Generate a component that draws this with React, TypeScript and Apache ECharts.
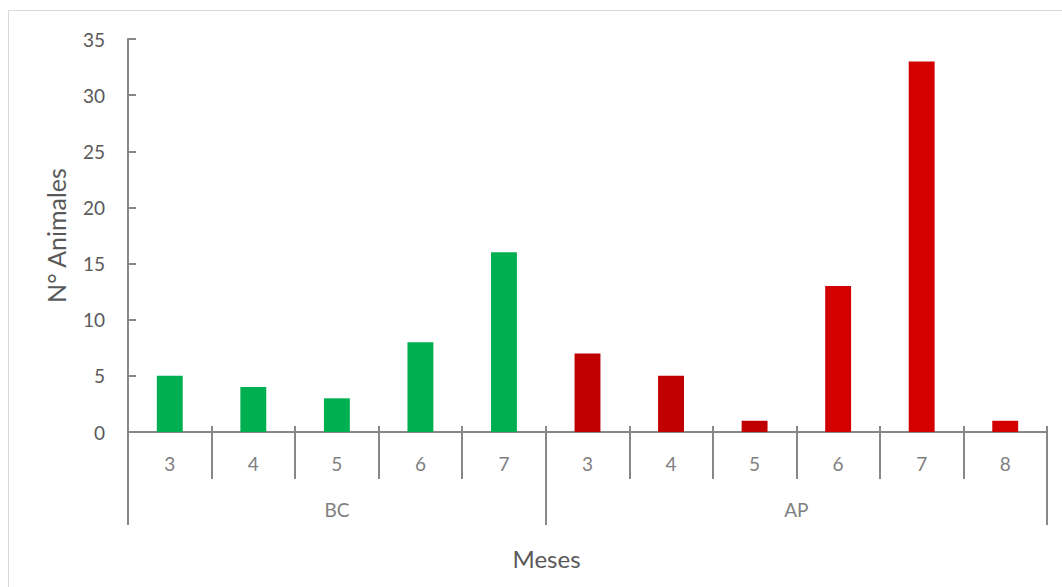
import React, { useEffect, useRef } from "react";
import * as echarts from "echarts";

const groups = ["BC", "AP"];
const groupSizes = [5, 6];
const months = ["3", "4", "5", "6", "7", "3", "4", "5", "6", "7", "8"];
const animals = [5, 4, 3, 8, 16, 7, 5, 1, 13, 33, 1];
const barColors = [
  "#00B050", "#00B050", "#00B050", "#00B050", "#00B050",
  "#C00000", "#C00000", "#C00000", "#D20000", "#D20000", "#D20000",
];
const yTicks = [0, 5, 10, 15, 20, 25, 30, 35];

const FONT = "Lato";
const AXIS_COLOR = "#878787";

export default function App() {
  const ref = useRef<HTMLDivElement>(null);
  useEffect(() => {
    if (!ref.current) return;
    const chart = echarts.init(ref.current, undefined, { renderer: "svg" });
    const catIds = months.map((m, i) => `${i}-${m}`);
    const bounds: number[] = [0];
    groupSizes.forEach((s, i) => bounds.push(bounds[i] + s));
    const groupCenters = groups.map((_, i) => (bounds[i] + bounds[i + 1]) / 2);
    const total = bounds[bounds.length - 1];

    chart.setOption({
      animation: false,
      textStyle: { fontFamily: FONT },
      graphic: [
        {
          type: "rect",
          shape: { x: 8.5, y: 10.5, width: 1060, height: 590 },
          style: { fill: "none", stroke: "#D9D9D9", lineWidth: 1 },
          silent: true,
          z: -10,
        },
      ],
      grid: { left: 128, right: 15, top: 39, bottom: 155, containLabel: false },
      xAxis: [
        {
          type: "category",
          data: catIds,
          position: "bottom",
          axisLine: { onZero: false, lineStyle: { color: AXIS_COLOR, width: 2 } },
          axisTick: { show: true, interval: 0, length: 47, lineStyle: { color: AXIS_COLOR, width: 2 } },
          axisLabel: {
            interval: 0,
            margin: 22,
            color: "#7F7F7F",
            fontSize: 19,
            fontFamily: FONT,
            formatter: (v: string) => v.split("-")[1],
          },
          splitLine: { show: false },
          name: "Meses",
          nameLocation: "middle",
          nameGap: 114,
          nameTextStyle: { color: "#595959", fontSize: 24, fontFamily: FONT, padding: [0, 82, 0, 0] },
        },
        {
          type: "category",
          data: catIds,
          position: "bottom",
          axisLine: { show: false, onZero: false },
          axisTick: { show: true, inside: true, interval: 0, length: 6, lineStyle: { color: AXIS_COLOR, width: 2 } },
          axisLabel: { show: false },
          splitLine: { show: false },
        },
        {
          type: "value",
          min: 0,
          max: total,
          position: "bottom",
          axisLine: { show: false, onZero: false },
          axisTick: {
            show: true,
            customValues: bounds,
            length: 93,
            lineStyle: { color: AXIS_COLOR, width: 2 },
          },
          axisLabel: {
            show: true,
            customValues: groupCenters,
            margin: 68,
            color: "#7F7F7F",
            fontSize: 19,
            fontFamily: FONT,
            formatter: (v: number) => {
              const i = groupCenters.indexOf(v);
              return i >= 0 ? groups[i] : "";
            },
          },
          splitLine: { show: false },
        },
      ],
      yAxis: {
        type: "value",
        min: yTicks[0],
        max: yTicks[yTicks.length - 1],
        interval: yTicks[1] - yTicks[0],
        axisLine: { show: true, onZero: false, lineStyle: { color: AXIS_COLOR, width: 2 } },
        axisTick: { show: true, inside: true, length: 8, lineStyle: { color: AXIS_COLOR, width: 2 } },
        axisLabel: { margin: 23, color: "#595959", fontSize: 19, fontFamily: FONT },
        splitLine: { show: false },
        name: "N° Animales",
        nameLocation: "middle",
        nameGap: 60,
        nameTextStyle: { color: "#595959", fontSize: 25, fontFamily: FONT },
      },
      series: [
        {
          type: "bar",
          xAxisIndex: 0,
          barWidth: "31%",
          data: animals.map((v, i) => ({ value: v, itemStyle: { color: barColors[i] } })),
        },
      ],
    });
    return () => chart.dispose();
  }, []);
  return (
    <div
      ref={ref}
      style={{ position: "fixed", left: 0, top: 0, width: 1062, height: 587, background: "#fff" }}
    />
  );
}
